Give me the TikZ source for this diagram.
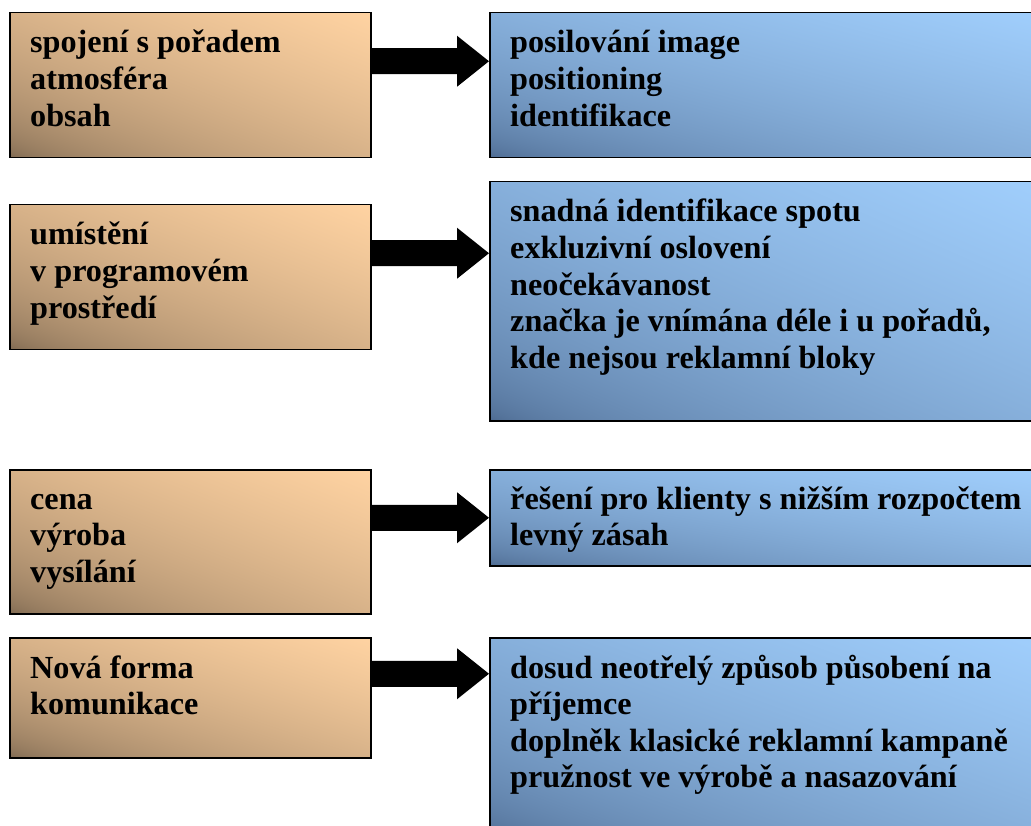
\documentclass[tikz,border=0pt]{standalone}
\usepackage{fontspec}
\setmainfont{Liberation Serif}
\usetikzlibrary{calc}
\pgfdeclarefunctionalshading{brgrad}{\pgfpoint{-50bp}{-50bp}}{\pgfpoint{50bp}{50bp}}{}{
  add 50 add 100 div
  dup 0 lt {pop 0} if dup 1 gt {pop 1} if sqrt
  dup 0.537 mul 0.463 add exch
  dup 0.443 mul 0.384 add exch
  0.337 mul 0.298 add
}
\pgfdeclarefunctionalshading{blgrad}{\pgfpoint{-50bp}{-50bp}}{\pgfpoint{50bp}{50bp}}{}{
  add 50 add 100 div
  dup 0 lt {pop 0} if dup 1 gt {pop 1} if sqrt
  dup 0.345 mul 0.282 add exch
  dup 0.416 mul 0.392 add exch
  0.447 mul 0.541 add
}
\newcommand{\bxt}[1]{\parbox[t]{540pt}{\raggedright\fontsize{32.2}{36.6}\selectfont\bfseries #1}}
\tikzset{
  lbox/.style={draw=black, line width=1.5pt, shade, shading=brgrad,
    anchor=north west, inner sep=0pt, minimum width=361pt},
  rbox/.style={draw=black, line width=1.5pt, shade, shading=blgrad,
    anchor=north west, inner sep=0pt, minimum width=545pt},
  txt/.style={anchor=base west, inner sep=0pt},
  blockarrow/.style={fill=black}
}
\newcommand{\barrow}[3]{% #1 left node, #2 right node, #3 name
  \coordinate (#3s) at ($(#1.east)+(0,24pt)$);
  \coordinate (#3t) at (#3s -| #2.west);
  \fill[blockarrow] ($(#3s)+(0,13pt)$) -- ($(#3t)+(-32pt,13pt)$) -- ($(#3t)+(-32pt,25.5pt)$) -- (#3t)
    -- ($(#3t)+(-32pt,-25.5pt)$) -- ($(#3t)+(-32pt,-13pt)$) -- ($(#3s)+(0,-13pt)$) -- cycle;
}
\begin{document}
\begin{tikzpicture}[x=1pt,y=-1pt]
\clip (0,0) rectangle (1031,826);
\fill[white] (0,0) rectangle (1031,826);
% boxes
\node[lbox, minimum height=145pt] (L1) at (9,12) {};
\node[rbox, minimum height=145pt] (R1) at (489,12) {};
\node[lbox, minimum height=145pt] (L2) at (9,204) {};
\node[rbox, minimum height=239pt] (R2) at (489,181) {};
\node[lbox, minimum height=144pt] (L3) at (9,469) {};
\node[rbox, minimum height=96pt] (R3) at (489,469) {};
\node[lbox, minimum height=120pt] (L4) at (9,637) {};
\node[rbox, minimum height=200pt] (R4) at (489,637) {};
% texts
\node[txt] (tL1) at (30,53) {\bxt{spojení s pořadem\\atmosféra\\obsah}};
\node[txt] (tR1) at (510,53) {\bxt{posilování image\\positioning\\identifikace}};
\node[txt] (tL2) at (30,245) {\bxt{umístění\\v programovém\\prostředí}};
\node[txt] (tR2) at (510,222) {\bxt{snadná identifikace spotu\\exkluzivní oslovení\\neočekávanost\\značka je vnímána déle i u pořadů,\\kde nejsou reklamní bloky}};
\node[txt] (tL3) at (30,509) {\bxt{cena\\výroba\\vysílání}};
\node[txt] (tR3) at (510,509) {\bxt{řešení pro klienty s nižším rozpočtem\\levný zásah}};
\node[txt] (tL4) at (30,678) {\bxt{Nová forma\\komunikace}};
\node[txt] (tR4) at (510,678) {\bxt{dosud neotřelý způsob působení na\\příjemce\\doplněk klasické reklamní kampaně\\pružnost ve výrobě a nasazování}};
% arrows
\barrow{L1}{R1}{a1}
\barrow{L2}{R2}{a2}
\barrow{L3}{R3}{a3}
\barrow{L4}{R4}{a4}
\end{tikzpicture}
\end{document}
